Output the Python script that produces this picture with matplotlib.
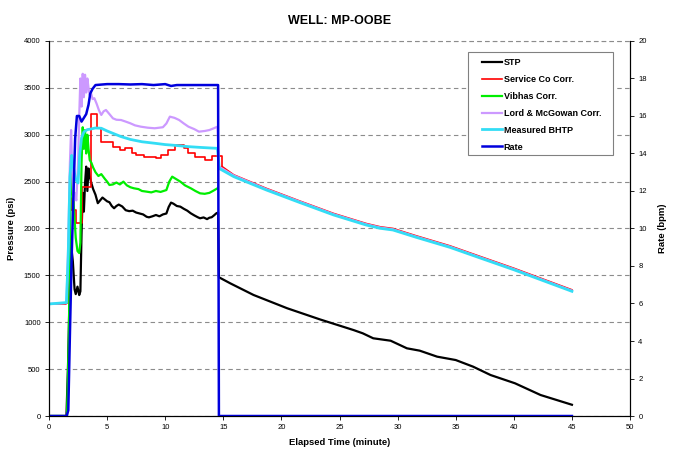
import matplotlib.pyplot as plt
from matplotlib.patches import Rectangle

plt.rcParams["font.family"] = ["Liberation Sans", "DejaVu Sans"]

# Surface treating pressure (psi) vs elapsed time (min)
stp_t = [0.0, 1.5, 1.65, 1.8, 1.95, 2.05, 2.2, 2.3, 2.45, 2.6,
         2.7, 2.8, 2.9, 3.0, 3.1, 3.2, 3.3, 3.4, 3.5, 3.65,
         3.8, 4.0, 4.2, 4.4, 4.6, 4.8, 5.0, 5.2, 5.4, 5.6,
         5.8, 6.0, 6.3, 6.6, 6.9, 7.2, 7.5, 7.8, 8.1, 8.4,
         8.6, 8.9, 9.2, 9.5, 9.8, 10.1, 10.3, 10.5, 10.7, 11.0,
         11.3, 11.6, 11.9, 12.2, 12.5, 12.8, 13.0, 13.3, 13.6, 13.8,
         14.0, 14.2, 14.4, 14.55, 14.62, 15.6, 17.6, 20.5, 23.3, 26.2,
         27.0, 27.9, 29.4, 30.8, 31.9, 33.4, 35.0, 36.5, 38.0, 40.1,
         42.3, 45.0]
stp_p = [0, 0, 600, 1500, 1770, 1650, 1350, 1300, 1380, 1290,
         1330, 1950, 2380, 2180, 2480, 2660, 2400, 2640, 2560, 2480,
         2420, 2360, 2270, 2300, 2330, 2310, 2290, 2280, 2240, 2216,
         2240, 2255, 2235, 2195, 2185, 2190, 2170, 2160, 2150, 2125,
         2119, 2130, 2144, 2130, 2150, 2160, 2230, 2276, 2265, 2240,
         2233, 2210, 2190, 2162, 2140, 2120, 2109, 2118, 2100, 2115,
         2120, 2140, 2162, 2170, 1480, 1415, 1291, 1149, 1031, 917,
         882, 829, 803, 722, 697, 633, 597, 526, 437, 349,
         224, 120]

# Service Co correlation, stepped while pumping, smooth after shut-in
svc_pump_t = [0.0, 0.03, 1.5, 1.65, 1.8, 1.95, 2.1, 2.3, 2.65, 2.8,
              3.6, 4.1, 4.5, 5.5, 6.1, 6.5, 7.1, 7.5, 8.2, 9.2,
              9.6, 10.2, 10.8, 11.6, 12.0, 12.6, 13.4, 14.0, 14.9]
svc_pump_p = [0, 1190, 1200, 1700, 2200, 2325, 2200, 2059, 2060, 2443,
              3218, 3069, 2926, 2873, 2837, 2860, 2802, 2784, 2766, 2749,
              2784, 2837, 2891, 2855, 2802, 2766, 2731, 2770, 2660]
svc_shut_t = [14.9, 15.9, 18.7, 21.6, 24.5, 27.3, 28.5, 29.6, 31.6, 34.5,
              37.0, 40.0, 42.5, 45.0]
svc_shut_p = [2660, 2572, 2428, 2292, 2160, 2053, 2018, 2000, 1922, 1815,
              1706, 1576, 1461, 1346]

# Vibhas correlation
vib_t = [0.0, 1.55, 1.7, 1.85, 2.0, 2.15, 2.3, 2.45, 2.6, 2.7,
         2.8, 2.9, 3.0, 3.1, 3.2, 3.3, 3.4, 3.5, 3.65, 3.8,
         4.0, 4.25, 4.5, 4.8, 5.0, 5.2, 5.5, 5.8, 6.1, 6.4,
         6.7, 7.0, 7.3, 7.7, 8.0, 8.4, 8.8, 9.2, 9.6, 10.1,
         10.35, 10.6, 10.9, 11.3, 11.7, 12.2, 12.6, 13.0, 13.4, 13.8,
         14.1, 14.5]
vib_p = [0, 0, 800, 2300, 2600, 2200, 1900, 1760, 1738, 1850,
         2700, 3080, 2850, 3050, 2800, 3000, 2850, 2731, 2700, 2650,
         2600, 2560, 2580, 2530, 2500, 2464, 2470, 2490, 2470, 2500,
         2460, 2440, 2429, 2420, 2400, 2393, 2385, 2400, 2390, 2410,
         2500, 2553, 2530, 2500, 2460, 2429, 2400, 2375, 2370, 2380,
         2400, 2429]

# Lord & McGowan correlation
lm_t = [0.0, 1.5, 1.65, 1.8, 1.9, 2.0, 2.1, 2.2, 2.35, 2.5,
        2.6, 2.7, 2.8, 2.9, 3.0, 3.1, 3.2, 3.3, 3.4, 3.5,
        3.6, 3.75, 3.9, 4.1, 4.3, 4.5, 4.7, 4.9, 5.2, 5.5,
        5.8, 6.2, 6.6, 7.0, 7.4, 7.9, 8.5, 9.1, 9.8, 10.1,
        10.4, 10.8, 11.2, 11.6, 12.0, 12.5, 12.9, 13.4, 13.8, 14.2,
        14.5, 14.62, 15.9, 18.7, 21.6, 24.5, 27.3, 28.5, 29.6, 31.6,
        34.5, 37.0, 40.0, 42.5, 45.0]
lm_p = [1195, 1205, 1800, 2700, 3050, 2600, 2300, 2380, 2300, 2700,
        3200, 3600, 3300, 3650, 3400, 3640, 3450, 3600, 3500, 3420,
        3450, 3380, 3390, 3330, 3260, 3211, 3250, 3264, 3220, 3175,
        3160, 3157, 3140, 3122, 3100, 3086, 3075, 3069, 3080, 3120,
        3193, 3180, 3157, 3120, 3086, 3060, 3033, 3040, 3050, 3070,
        3086, 2660, 2565, 2420, 2285, 2152, 2045, 2010, 1991, 1913,
        1806, 1697, 1567, 1452, 1337]

# Measured bottom-hole treating pressure
bh_t = [0.0, 1.5, 1.65, 1.8, 1.95, 2.1, 2.3, 2.5, 2.65, 2.8,
        3.0, 3.3, 3.6, 4.0, 4.5, 5.0, 5.6, 6.2, 7.0, 8.0,
        9.1, 10.0, 11.0, 12.0, 13.0, 14.0, 14.5, 14.65, 15.9, 18.7,
        21.6, 24.5, 27.3, 28.5, 29.6, 31.6, 34.5, 37.0, 40.0, 42.5,
        45.0]
bh_p = [1195, 1210, 1700, 2550, 2780, 2650, 2520, 2485, 2800, 2966,
        3030, 3055, 3061, 3072, 3069, 3040, 3010, 2980, 2950, 2925,
        2909, 2895, 2885, 2873, 2865, 2858, 2855, 2640, 2553, 2411,
        2276, 2144, 2037, 2002, 1984, 1906, 1799, 1690, 1560, 1445,
        1330]

# Pump rate (bpm)
rate_t = [0.0, 1.52, 1.66, 1.8, 1.95, 2.09, 2.25, 2.4, 2.6, 2.8,
          3.0, 3.2, 3.4, 3.55, 3.75, 4.0, 5.0, 6.0, 7.0, 8.0,
          9.0, 10.0, 10.5, 11.0, 12.0, 13.0, 14.0, 14.55, 14.62, 45.0]
rate_v = [0, 0, 0.3, 4.4, 8.5, 11.5, 14.8, 16.0, 16.0, 15.7,
          15.9, 16.1, 16.6, 17.2, 17.45, 17.65, 17.7, 17.7, 17.68, 17.7,
          17.65, 17.7, 17.6, 17.65, 17.65, 17.65, 17.65, 17.65, 0, 0]

fig = plt.figure(figsize=(6.76, 4.61), dpi=100)
ax = fig.add_axes([0.0725, 0.0976, 0.8595, 0.8135])
ax2 = ax.twinx()

h_stp, = ax.plot(stp_t, stp_p, color="black", lw=1.6, label="STP")
h_svc, = ax.plot(svc_pump_t, svc_pump_p, color="#FF0000", lw=1.2,
                 drawstyle="steps-post", label="Service Co Corr.")
ax.plot(svc_shut_t, svc_shut_p, color="#FF0000", lw=1.2)
h_vib, = ax.plot(vib_t, vib_p, color="#00EE00", lw=1.6, label="Vibhas Corr.")
h_lm, = ax.plot(lm_t, lm_p, color="#CC99FF", lw=1.6,
                label="Lord & McGowan Corr.")
h_bh, = ax.plot(bh_t, bh_p, color="#33DDF5", lw=2.0, label="Measured BHTP")
h_rate, = ax2.plot(rate_t, rate_v, color="#0000DD", lw=1.8, label="Rate")

ax.set_xlim(0, 50)
ax.set_ylim(0, 4000)
ax2.set_ylim(0, 20)
ax.set_xticks(range(0, 51, 5))
ax.set_yticks(range(0, 4001, 500))
ax2.set_yticks(range(0, 21, 2))

# dashed grey gridlines, top edge drawn as a gridline too
ax.grid(axis="y", color="#8c8c8c", linestyle=(0, (4, 3)), lw=0.8)
ax.set_axisbelow(True)
for a in (ax, ax2):
    a.spines["top"].set_visible(False)
    for s in ("left", "right", "bottom"):
        a.spines[s].set_linewidth(0.8)
ax.axhline(4000, color="#8c8c8c", linestyle=(0, (4, 3)), lw=0.8, clip_on=False)

ax.tick_params(labelsize=5.5, length=3, width=0.6, pad=3)
ax2.tick_params(labelsize=5.5, length=3, width=0.6, pad=3)

ax.set_title("WELL: MP-OOBE", fontsize=9, fontweight="bold", pad=12)
ax.set_xlabel("Elapsed Time (minute)", fontsize=6.8, fontweight="bold",
              labelpad=5)
ax.set_ylabel("Pressure (psi)", fontsize=6.8, fontweight="bold", labelpad=6)
ax2.set_ylabel("Rate (bpm)", fontsize=6.8, fontweight="bold", labelpad=8)

# legend box drawn separately so the wider side padding matches Excel
ax2.add_patch(Rectangle((0.6923, 0.6638), 0.2145, 0.2234,
                        transform=fig.transFigure, facecolor="white",
                        edgecolor="#808080", lw=0.8, zorder=4.5,
                        clip_on=False))
handles = [h_stp, h_svc, h_vib, h_lm, h_bh, h_rate]
leg = ax2.legend(handles=handles, loc="upper left",
                 bbox_to_anchor=(0.745, 0.955),
                 prop={"weight": "bold", "size": 6.5},
                 frameon=False, handlelength=2.2, handletextpad=0.2,
                 labelspacing=0.88, borderpad=0, borderaxespad=0)
leg.set_zorder(6)

fig.savefig("out.png", dpi=100)
